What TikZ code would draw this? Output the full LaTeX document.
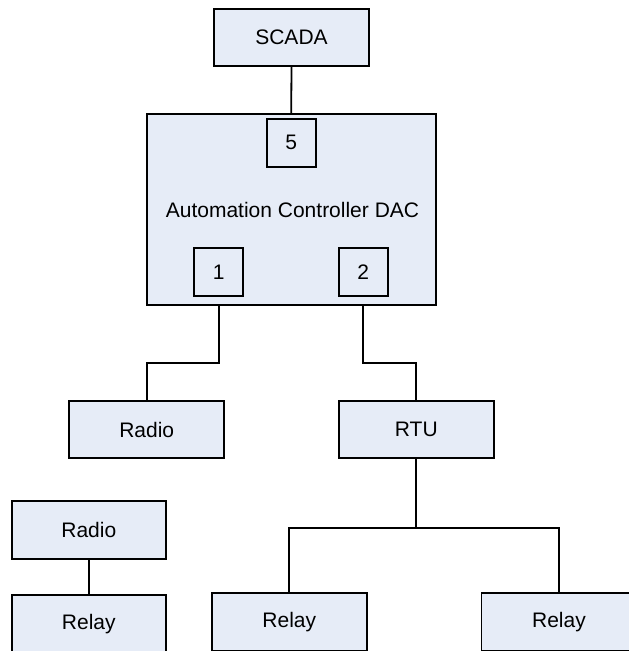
\documentclass[tikz,border=0pt]{standalone}
\usepackage{fontspec}
\setmainfont{Liberation Sans}
\definecolor{boxfill}{RGB}{230,236,247}
\begin{document}
\begin{tikzpicture}[x=1pt,y=-1pt,
  box/.style={draw=black, fill=boxfill, line width=1.8pt, rectangle, inner sep=0pt,
    font=\fontsize{21}{25}\selectfont},
  wide/.style={box, minimum width=155pt, minimum height=57pt},
  port/.style={box, minimum width=49pt, minimum height=48pt},
  link/.style={draw=black, line width=1.8pt}]
\useasboundingbox (0,0) rectangle (629,651);
\clip (0,0) rectangle (629,651);
\node[wide] (scada) at (291.5,37.5) {SCADA};
\node[box, minimum width=289pt, minimum height=191pt] (dac) at (291.2,209.7) {};
\node[font=\fontsize{21}{25}\selectfont, inner sep=0pt] (dactext) at (292.5,210) {Automation Controller DAC};
\node[port] (p5) at (291.3,142.7) {5};
\node[port] (p1) at (218.8,271.8) {1};
\node[port] (p2) at (363.3,271.8) {2};
\node[wide] (radio) at (146.7,429.8) {Radio};
\node[wide] (rtu) at (416.3,429.8) {RTU};
\node[wide, minimum width=154pt, minimum height=58pt] (radio2) at (88.8,530.3) {Radio};
\node[wide, minimum width=154pt, minimum height=58pt] (relay1) at (88.8,624.3) {Relay};
\node[wide, minimum height=58pt] (relay2) at (289.3,621.7) {Relay};
\node[wide, minimum height=58pt] (relay3) at (559,621.7) {Relay};
\coordinate (j1) at (218.8,362.7);
\coordinate (j2) at (363.3,362.7);
\coordinate (j3) at (416.3,527.7);
\draw[link] (scada.south) -- (dac.north);
\draw[link] (p1 |- dac.south) -- (j1) -| (radio.north);
\draw[link] (p2 |- dac.south) -- (j2) -| (rtu.north);
\draw[link] (rtu.south) -- (j3);
\draw[link] (relay2.north) |- (j3) -| (relay3.north);
\draw[link] (radio2.south) -- (relay1.north);
\end{tikzpicture}
\end{document}
